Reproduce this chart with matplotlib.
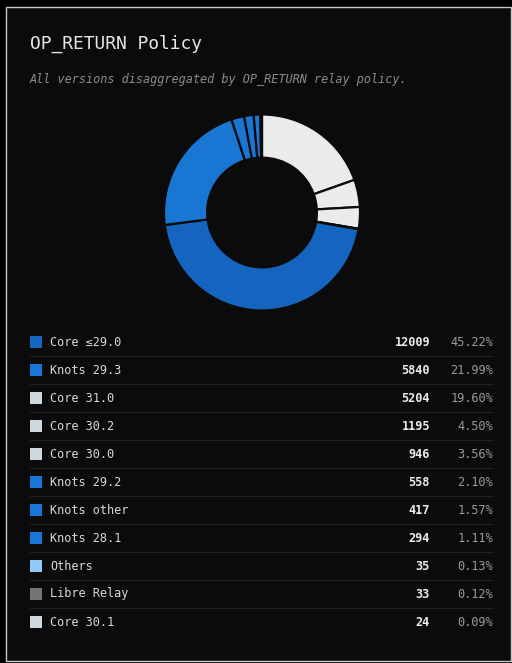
import matplotlib.pyplot as plt
from matplotlib.patches import Rectangle

labels = ['Core ≤29.0', 'Knots 29.3', 'Core 31.0', 'Core 30.2', 'Core 30.0',
          'Knots 29.2', 'Knots other', 'Knots 28.1', 'Others', 'Libre Relay', 'Core 30.1']
counts = [12009, 5840, 5204, 1195, 946, 558, 417, 294, 35, 33, 24]
percents = ['45.22%', '21.99%', '19.60%', '4.50%', '3.56%', '2.10%',
            '1.57%', '1.11%', '0.13%', '0.12%', '0.09%']
legend_colors = ['#1565c0', '#1976d2', '#cfd8dc', '#cfd8dc', '#cfd8dc', '#1976d2',
                 '#1976d2', '#1976d2', '#90caf9', '#757575', '#cfd8dc']
# order of slices in the donut, clockwise from 12 o'clock
donut_order = ['Core 31.0', 'Core 30.2', 'Core 30.0', 'Core 30.1', 'Core ≤29.0',
               'Knots 29.3', 'Knots 29.2', 'Knots other', 'Knots 28.1', 'Others', 'Libre Relay']
donut_colors = {'#cfd8dc': '#ebebeb'}

W, H = 512, 663
fig = plt.figure(figsize=(W / 100, H / 100), dpi=100)
fig.patch.set_facecolor('#000000')

ax = fig.add_axes([0, 0, 1, 1])
ax.set_xlim(0, W)
ax.set_ylim(H, 0)
ax.axis('off')
ax.add_patch(Rectangle((5.5, 6.5), 505, 654, facecolor='#0b0b0b',
                       edgecolor='#c8c8c8', linewidth=1))

mono = 'DejaVu Sans Mono'
ax.text(30, 44, 'OP_RETURN Policy', fontsize=12.9, family=mono,
        color='#e6e6e6', va='center', ha='left')
ax.text(30, 79, 'All versions disaggregated by OP_RETURN relay policy.',
        fontsize=8.6, family=mono, style='italic', color='#8c8c8c',
        va='center', ha='left')

# legend table
row0, step = 342, 28
for i, lab in enumerate(labels):
    y = row0 + i * step
    ax.add_patch(Rectangle((30, y - 6), 12, 12, facecolor=legend_colors[i], edgecolor='none'))
    ax.text(50, y, lab, fontsize=8.6, family=mono, color='#d8d8d8', va='center', ha='left')
    ax.text(430, y, str(counts[i]), fontsize=8.6, family=mono, color='#ececec',
            fontweight='bold', va='center', ha='right')
    ax.text(493, y, percents[i], fontsize=8.6, family=mono, color='#9a9a9a',
            va='center', ha='right')
    if i < len(labels) - 1:
        ax.plot([30, 493], [y + 14, y + 14], color='#202020', linewidth=0.8)

# donut
cx, cy, r = 262, 212.5, 98
pax = fig.add_axes([(cx - r) / W, 1 - (cy + r) / H, 2 * r / W, 2 * r / H])
vals = [counts[labels.index(n)] for n in donut_order]
cols = [legend_colors[labels.index(n)] for n in donut_order]
cols = [donut_colors.get(c, c) for c in cols]
pax.pie(vals, colors=cols, startangle=90, counterclock=False, radius=1,
        wedgeprops=dict(width=0.44, edgecolor='#0b0b0b', linewidth=1.6))
pax.set_xlim(-1, 1)
pax.set_ylim(-1, 1)
pax.set_aspect('auto')
pax.axis('off')

plt.savefig('out.png', dpi=100, facecolor=fig.get_facecolor())
